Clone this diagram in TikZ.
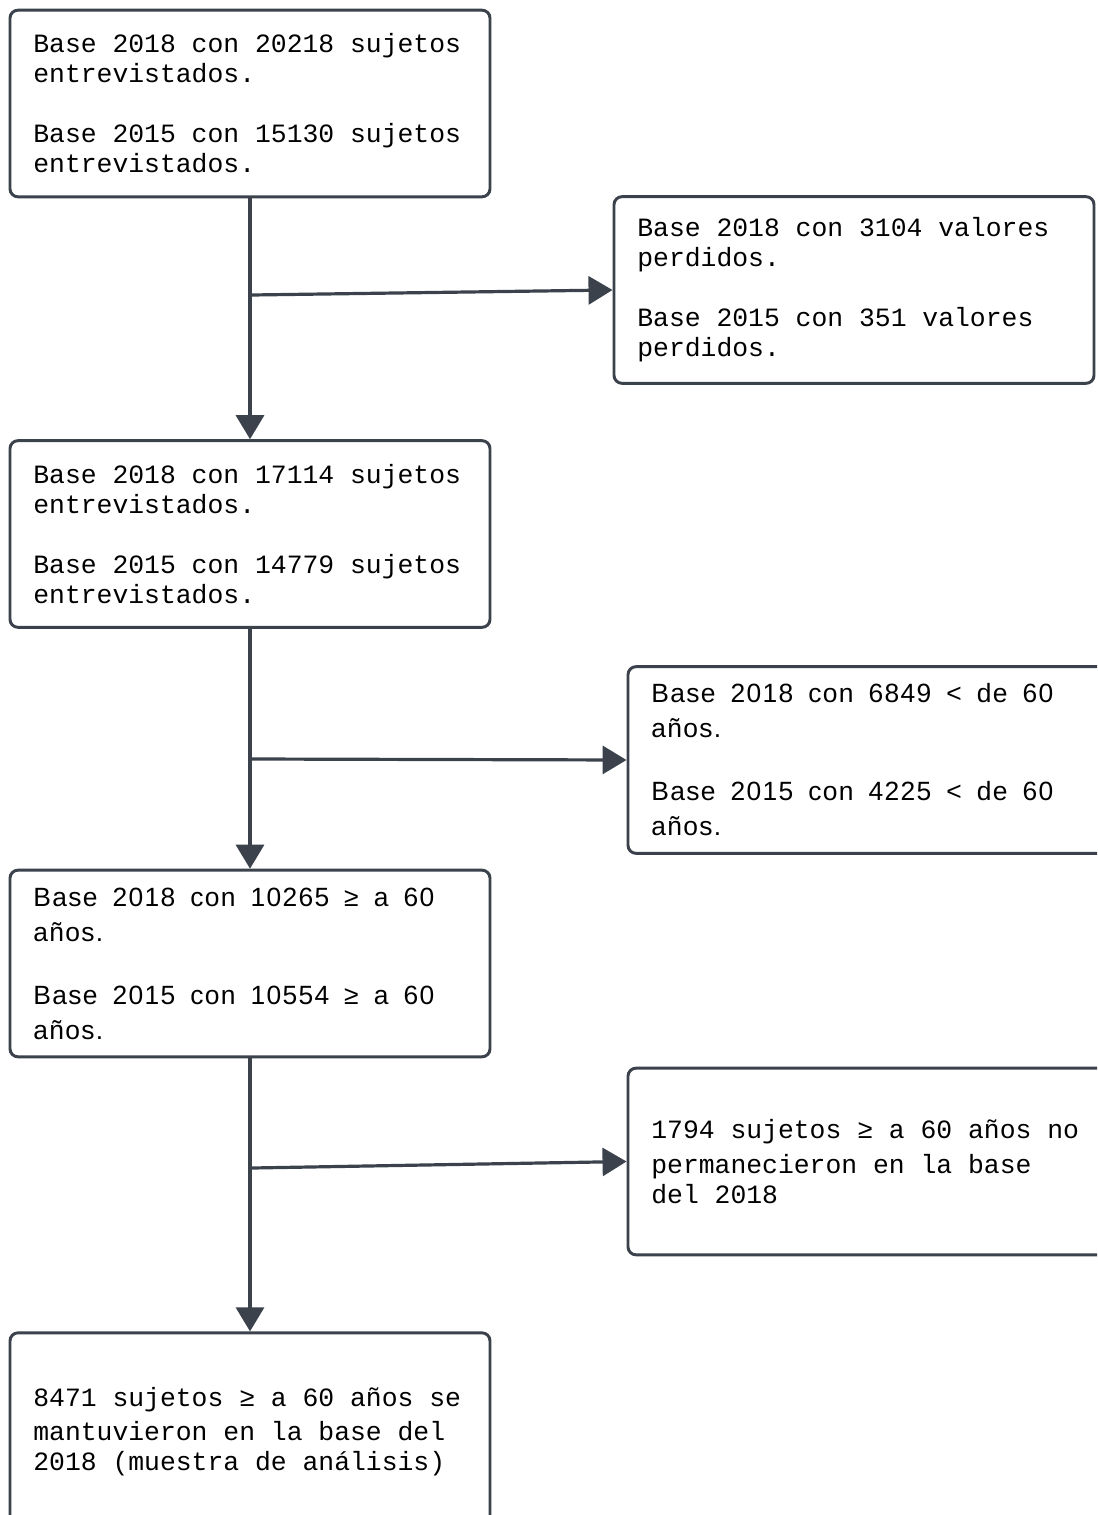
\documentclass[tikz,border=0pt]{standalone}
\usepackage{fontspec}
\setmonofont{Liberation Mono}
\newfontfamily\gridsans{Liberation Sans}[LetterSpace=5.0]
\usepackage{tikz}
\usetikzlibrary{arrows.meta}
\definecolor{edgegray}{HTML}{3B424C}

\begin{document}
\begin{tikzpicture}[x=0.75pt,y=-0.75pt]
        \tikzset{box/.style = {shape=rectangle,draw=edgegray,line width=2.2pt,rounded corners=6pt,
            text width=325pt,inner xsep=17.5pt,minimum height=140pt,align=left,
            font=\ttfamily\fontsize{19.8}{22.5}\selectfont,
            execute at begin node={\spaceskip=11.88pt\relax}}}
        \tikzset{sansbox/.style = {box,font=\gridsans\fontsize{19.8}{22.5}\selectfont,
            execute at begin node={\spaceskip=11.3pt\relax}}}
        \tikzset{edge/.style = {-{Triangle[width=21pt,length=18pt]},draw=edgegray,line width=2.4pt}}
        \clip (0,0) rectangle (1097,1515);
        \fill[white] (0,0) rectangle (1097,1515);
        % boxes
        \node[box] (0) at (250,103.5) {Base 2018 con 20218 sujetos\\entrevistados.\\[22.5pt]Base 2015 con 15130 sujetos\\entrevistados.};
        \node[box] (1) at (854,290) {Base 2018 con 3104 valores\\perdidos.\\[22.5pt]Base 2015 con 351 valores\\perdidos.};
        \node[box] (2) at (250,534) {Base 2018 con 17114 sujetos\\entrevistados.\\[22.5pt]Base 2015 con 14779 sujetos\\entrevistados.};
        \node[sansbox] (3) at (868,760) {Base 2018 con 6849 < de 60\\[3.75pt]años.\\[24.75pt]Base 2015 con 4225 < de 60\\[3.75pt]años.};
        \node[sansbox] (4) at (250,963.5) {Base 2018 con 10265 ≥ a 60\\[3.75pt]años.\\[24.75pt]Base 2015 con 10554 ≥ a 60\\[3.75pt]años.};
        \node[box] (5) at (868,1161.5) {1794 sujetos ≥ a 60 años no\\[3.75pt]permanecieron en la base\\del 2018};
        \node[box,minimum height=148pt] (6) at (250,1431.5) {8471 sujetos ≥ a 60 años se\\[3pt]mantuvieron en la base del\\2018 (muestra de análisis)};
        % branch points
        \coordinate (j0) at (252,295);
        \coordinate (j1) at (250,759);
        \coordinate (j2) at (252,1168);
        %edges
        \draw[edge] (0) -- (2);
        \draw[edge] (2) -- (4);
        \draw[edge] (4) -- (6);
        \draw[edge] (j0) -- (1.west);
        \draw[edge] (j1) -- (3.west);
        \draw[edge] (j2) -- (5.west);
\end{tikzpicture}
\end{document}
